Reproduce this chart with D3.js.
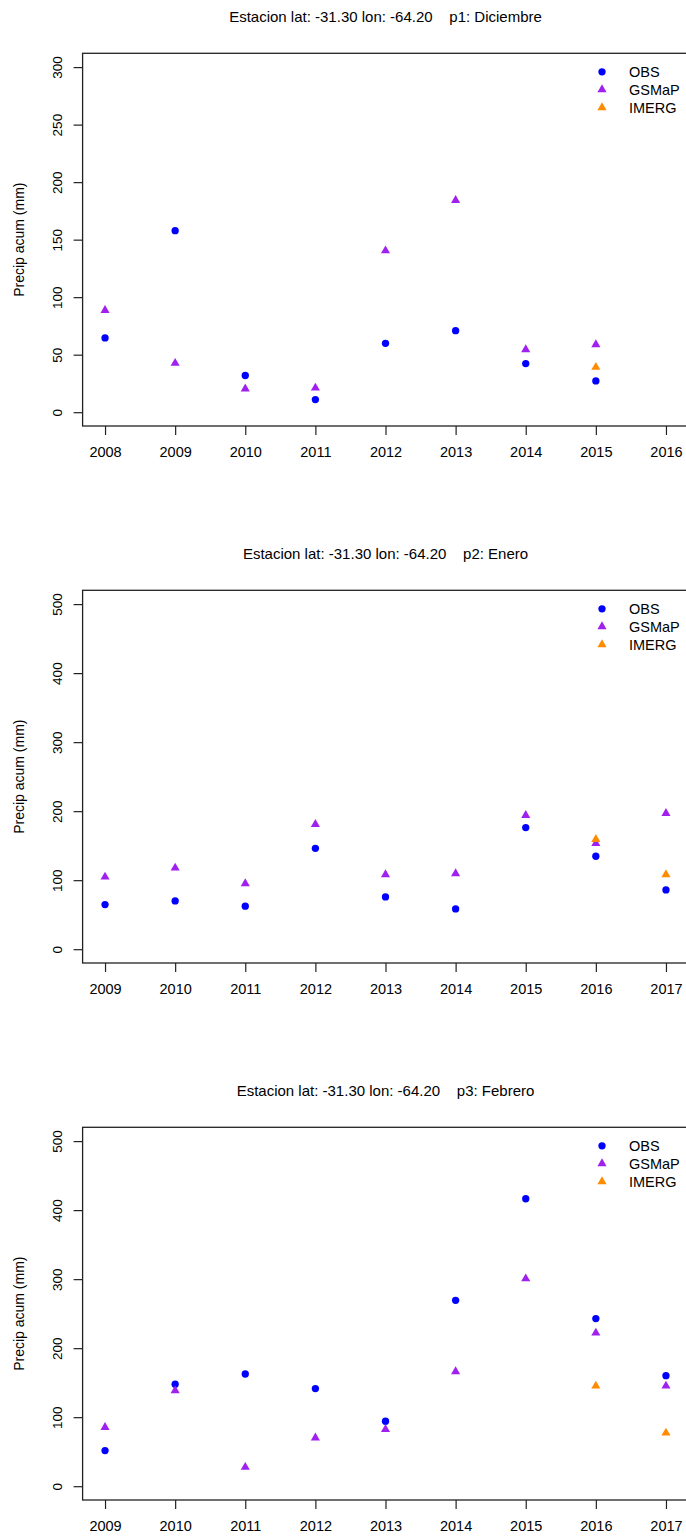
<!DOCTYPE html>
<html>
<head>
<meta charset="utf-8">
<script src="https://cdn.jsdelivr.net/npm/d3@7"></script>
<style>
  body { margin: 0; background: #fff; }
  text { font-family: "Liberation Sans", Arial, sans-serif; fill: #000; white-space: pre; }
</style>
</head>
<body>
<div id="chart"></div>
<script>
// Data (null = no value that year)
var years1 = [2008, 2009, 2010, 2011, 2012, 2013, 2014, 2015, 2016];
var obs1   = [64.6, 157.8, 31.9, 11.0, 59.9, 70.9, 42.3, 27.2, null];
var gsmap1 = [88.6, 42.6, 20.3, 21.1, 140.4, 184.2, 54.4, 58.8, null];
var imerg1 = [null, null, null, null, null, null, null, 39.1, null];

var years2 = [2009, 2010, 2011, 2012, 2013, 2014, 2015, 2016, 2017];
var obs2   = [64.7, 70.0, 62.3, 146.2, 75.8, 58.4, 176.2, 134.7, 85.9];
var gsmap2 = [104.7, 117.8, 95.1, 181.0, 108.1, 109.6, 194.0, 153.5, 196.9];
var imerg2 = [null, null, null, null, null, null, null, 159.3, 108.1];

var years3 = [2009, 2010, 2011, 2012, 2013, 2014, 2015, 2016, 2017];
var obs3   = [51.6, 147.7, 162.6, 141.4, 94.1, 269.3, 416.5, 242.8, 160.2];
var gsmap3 = [85.4, 138.5, 27.5, 70.0, 82.5, 166.0, 300.7, 222.0, 145.3];
var imerg3 = [null, null, null, null, null, null, null, 145.3, 77.2];

var titles = [
  "Estacion lat: -31.30 lon: -64.20    p1: Diciembre",
  "Estacion lat: -31.30 lon: -64.20    p2: Enero",
  "Estacion lat: -31.30 lon: -64.20    p3: Febrero"
];
var yMax = [300, 500, 500];
var yStep = [50, 100, 100];
var seriesNames = ["OBS", "GSMaP", "IMERG"];

var panels = [
  { years: years1, series: [obs1, gsmap1, imerg1] },
  { years: years2, series: [obs2, gsmap2, imerg2] },
  { years: years3, series: [obs3, gsmap3, imerg3] }
];

// Layout
var svgWidth = 686;
var svgHeight = 1537;
var boxLeft = 82.6;
var boxRight = 688.4;
var boxHeight = 372.7;
var firstTop = 53.3;
var panelStep = 537;

var colors = ["#0000ff", "#a020f0", "#ff8c00"];
var shapes = [d3.symbolCircle, d3.symbolTriangle, d3.symbolTriangle];
var sizes = [42, 36, 36];

var svg = d3.select("#chart")
  .append("svg")
  .attr("width", svgWidth)
  .attr("height", svgHeight)
  .style("background", "#fff");

panels.forEach(function(p, i) {
  var top = firstTop + i * panelStep;
  var bottom = top + boxHeight;
  var g = svg.append("g");

  var first = p.years[0], last = p.years[p.years.length - 1];
  var pad = (last - first) * 0.04;
  var x = d3.scaleLinear()
    .domain([first - pad, last + pad])
    .range([boxLeft, boxRight]);

  var y = d3.scaleLinear()
    .domain([-yMax[i] * 0.04, yMax[i] * 1.04])
    .range([bottom, top]);

  // title
  g.append("text")
    .attr("x", (boxLeft + boxRight) / 2)
    .attr("y", top - 31.5)
    .attr("text-anchor", "middle")
    .attr("font-size", "15px")
    .attr("xml:space", "preserve")
    .text(titles[i]);

  // x axis
  var xAxis = g.append("g")
    .attr("transform", `translate(0, ${bottom})`)
    .call(d3.axisBottom(x)
      .tickValues(p.years)
      .tickFormat(d3.format("d"))
      .tickSize(9)
      .tickPadding(12));
  xAxis.select(".domain").remove();
  xAxis.selectAll("line").attr("stroke", "#222").attr("stroke-width", 1.2);
  xAxis.selectAll("text")
    .attr("font-size", "14.5px")
    .attr("fill", "#000");

  // y axis
  var yAxis = g.append("g")
    .attr("transform", `translate(${boxLeft}, 0)`)
    .call(d3.axisLeft(y)
      .tickValues(d3.range(0, yMax[i] + 1, yStep[i]))
      .tickSize(9));
  yAxis.select(".domain").remove();
  yAxis.selectAll("line").attr("stroke", "#222").attr("stroke-width", 1.2);
  yAxis.selectAll("text")
    .attr("transform", "rotate(-90)")
    .attr("x", 0)
    .attr("y", -21)
    .attr("dy", 0)
    .attr("text-anchor", "middle")
    .attr("font-size", "13.5px")
    .attr("fill", "#000");

  // y axis title
  g.append("text")
    .attr("transform", `translate(23.5, ${(top + bottom) / 2}) rotate(-90)`)
    .attr("text-anchor", "middle")
    .attr("font-size", "14px")
    .text("Precip acum (mm)");

  // plot box
  g.append("rect")
    .attr("x", boxLeft)
    .attr("y", top)
    .attr("width", boxRight - boxLeft)
    .attr("height", boxHeight)
    .attr("fill", "none")
    .attr("stroke", "#222")
    .attr("stroke-width", 1.3);

  // points
  p.series.forEach(function(values, s) {
    var pts = values.map(function(v, k) { return { year: p.years[k], value: v }; })
      .filter(function(d) { return d.value !== null; });
    g.selectAll(".pt" + s)
      .data(pts)
      .enter()
      .append("path")
      .attr("class", "pt" + s)
      .attr("d", d3.symbol(shapes[s], sizes[s]))
      .attr("transform", d => `translate(${x(d.year)}, ${y(d.value)})`)
      .attr("fill", colors[s]);
  });

  // legend
  var rowY = [18.5, 36.3, 54.2];
  seriesNames.forEach(function(name, s) {
    g.append("path")
      .attr("d", d3.symbol(shapes[s], sizes[s]))
      .attr("transform", `translate(602, ${top + rowY[s]})`)
      .attr("fill", colors[s]);
    g.append("text")
      .attr("x", 629)
      .attr("y", top + rowY[s])
      .attr("dy", "0.36em")
      .attr("font-size", "14.5px")
      .text(name);
  });
});
</script>
</body>
</html>
